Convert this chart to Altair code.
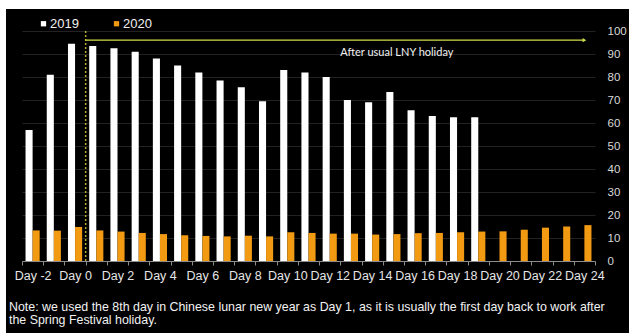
import json
import altair as alt
import pandas as pd

days = ["Day -2", "Day -1", "Day 0", "Day 1", "Day 2", "Day 3", "Day 4", "Day 5",
        "Day 6", "Day 7", "Day 8", "Day 9", "Day 10", "Day 11", "Day 12", "Day 13",
        "Day 14", "Day 15", "Day 16", "Day 17", "Day 18", "Day 19", "Day 20",
        "Day 21", "Day 22", "Day 23", "Day 24"]
years = ["2019", "2020"]
vals_2019 = [57, 81, 94.5, 93.5, 92.5, 91, 88, 85, 82, 78.5, 75.5, 69.5, 83, 82,
             80, 70, 69, 73.5, 65.5, 63, 62.5, 62.5]
vals_2020 = [13.3, 13.2, 14.8, 13.3, 12.8, 12.2, 11.7, 11.2, 10.9, 10.7, 11.0, 10.7,
             12.5, 12.2, 11.9, 11.9, 11.5, 11.7, 12.1, 12.2, 12.5, 12.8, 12.9, 13.6,
             14.5, 15.0, 15.6]
y_ticks = [0, 10, 20, 30, 40, 50, 60, 70, 80, 90, 100]
shown_labels = days[::2]
note = ["Note: we used the 8th day in Chinese lunar new year as Day 1, as it is usually the first day back to work after",
        "the Spring Festival holiday."]
annot_text = "After usual LNY holiday"

rows = []
for d, v in zip(days, vals_2019):
    rows.append({"day": d, "year": "2019", "value": v})
for d, v in zip(days, vals_2020):
    rows.append({"day": d, "year": "2020", "value": v})
df = pd.DataFrame(rows)

W, H = 573, 230
PL, PT, PR, PB = 22, 31, 34, 72

xscale = alt.Scale(domain=days, paddingInner=0, paddingOuter=0)
yscale = alt.Scale(domain=[0, 100])

label_expr = "indexof(" + json.dumps(shown_labels) + ", datum.value) >= 0 ? datum.value : ''"

x_axis = alt.Axis(
    title=None, labelExpr=label_expr, labelAngle=0, labelColor="#e6e6e6",
    labelFont="Liberation Sans", labelFontSize=12.5, domainColor="#8c8c8c",
    tickColor="#8c8c8c", tickSize=4, tickBand="extent", labelPadding=4,
    grid=False, labelOverlap=False)
y_axis = alt.Axis(
    orient="right", title=None, values=y_ticks, domain=False, ticks=False,
    labelPadding=12, labelColor="#d9d9d9", labelFont="Liberation Sans",
    labelFontSize=11.5, gridColor="#222222", gridWidth=1)


def xenc(field, **kw):
    return alt.X(f"{field}:N", sort=days, scale=xscale, axis=x_axis, **kw)


def yenc(field):
    return alt.Y(f"{field}:Q", scale=yscale, axis=y_axis)


bars = alt.Chart(df).mark_bar().encode(
    x=xenc("day"),
    xOffset=alt.XOffset("year:N", scale=alt.Scale(domain=years, paddingInner=0, paddingOuter=0.5)),
    y=yenc("value"),
    color=alt.Color("year:N", scale=alt.Scale(domain=years, range=["#ffffff", "#f29a12"]),
                    legend=alt.Legend(title=None, orient="none", legendX=15, legendY=-14,
                                      direction="horizontal", symbolType="square",
                                      symbolSize=28, labelColor="#f0f0f0", labelFontSize=13,
                                      labelFont="Liberation Sans", columnPadding=31,
                                      labelOffset=0, symbolStrokeWidth=0)),
)

df_v = pd.DataFrame({"day": ["Day 0"]})
vline = alt.Chart(df_v).mark_rule(color="#b5ad2c", strokeDash=[2, 2], strokeWidth=1.5).encode(
    x=xenc("day", bandPosition=1)
)

df_arrow = pd.DataFrame({"start": ["Day 0"], "end": ["Day 24"], "y": [96]})
hline = alt.Chart(df_arrow).mark_rule(color="#d4de4c", strokeWidth=1.2).encode(
    x=xenc("start", bandPosition=1),
    x2="end:N",
    y=yenc("y"),
)
head = alt.Chart(df_arrow).mark_point(shape="triangle-right", filled=True, size=18,
                                      color="#d4de4c", opacity=1).encode(
    x=xenc("end"),
    y=yenc("y"),
)

df_t = pd.DataFrame({"pos": ["Day 13"], "y": [90.5], "label": [annot_text]})
annot = alt.Chart(df_t).mark_text(align="left", baseline="middle", font="Lato",
                                  fontSize=11, color="#f2f2f2").encode(
    x=xenc("pos", bandPosition=0),
    y=yenc("y"),
    text="label:N",
)

df_f = pd.DataFrame({"a": [0]})
note_mark = alt.Chart(df_f).mark_text(
    text=note, align="left", baseline="alphabetic", font="Liberation Sans",
    fontSize=12.4, lineHeight=12.5, color="#f2f2f2"
).encode(x=alt.value(9 - PL), y=alt.value(311 - PT))

strip_left = alt.Chart(df_f).mark_rect(color="white").encode(
    x=alt.value(-PL), x2=alt.value(-PL + 6), y=alt.value(-PT), y2=alt.value(H + PB)
)
strip_top = alt.Chart(df_f).mark_rect(color="white").encode(
    x=alt.value(-PL), x2=alt.value(W + PR), y=alt.value(-PT), y2=alt.value(-PT + 9)
)

chart = alt.layer(bars, vline, hline, head, annot, note_mark, strip_left, strip_top).properties(
    width=W, height=H,
    padding={"left": PL, "top": PT, "right": PR, "bottom": PB},
    autosize=alt.AutoSizeParams(type="none"),
    background="black",
).configure_view(stroke=None)

chart.save("out.html", embed_options={"renderer": "svg", "actions": False})
